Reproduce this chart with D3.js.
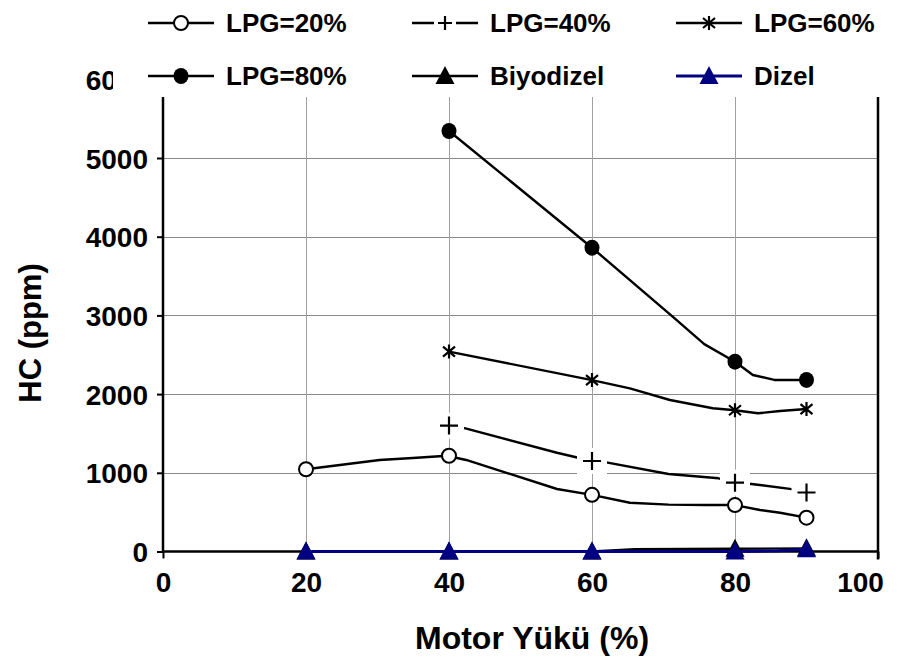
<!DOCTYPE html>
<html>
<head>
<meta charset="utf-8">
<script src="https://cdn.jsdelivr.net/npm/d3@7"></script>
<style>
  html, body { margin: 0; padding: 0; background: #fff; }
  svg { display: block; }
  text { font-family: "Liberation Sans", Arial, sans-serif; font-weight: bold; fill: #000; }
</style>
</head>
<body>
<div id="chart"></div>
<script>
// Motor load (%) where markers sit
const loads = [20, 40, 60, 80, 90];

// HC (ppm) at each marker
const lpg20 = [1045, 1217, 720, 590, 430];
const lpg40 = [null, 1600, 1150, 875, 750];
const lpg60 = [null, 2540, 2178, 1795, 1810];
const lpg80 = [null, 5343, 3860, 2412, 2180];
const biyodizel = [0, 0, 0, 35, 40];
const dizel = [0, 0, 0, 0, 30];

// line vertices as drawn in the picture (load, ppm)
const lpg20LineX = [20, 30.3, 35.5, 39.7, 42.4, 55.1, 60, 65.3, 70.7, 75.8, 80, 83.5, 86.3, 90];
const lpg20LineY = [1045, 1163, 1192, 1217, 1163, 794, 720, 620, 595, 591, 590, 527, 493, 430];
const lpg40LineX = [40, 42.3, 55.1, 60, 62, 70.7, 77.7, 80, 82.3, 88.2, 90];
const lpg40LineY = [1600, 1565, 1255, 1150, 1133, 985, 930, 875, 858, 790, 750];
const lpg60LineX = [40, 60, 65.3, 70.9, 76.9, 80, 83.2, 86.3, 90];
const lpg60LineY = [2540, 2178, 2073, 1925, 1820, 1795, 1756, 1785, 1810];
const lpg80LineX = [40, 60, 71.4, 75.7, 80, 82.5, 85.5, 90];
const lpg80LineY = [5343, 3860, 2975, 2635, 2412, 2243, 2180, 2180];
const biyoLineX = [20, 40, 60, 66, 80, 90];
const biyoLineY = [0, 0, 0, 30, 35, 40];
const dizelLineX = [20, 40, 60, 80, 86, 90];
const dizelLineY = [0, 0, 0, 0, 8, 30];

const xTicks = [0, 20, 40, 60, 80, 100];
const yTicks = [0, 1000, 2000, 3000, 4000, 5000, 6000];

const series = [
  { name: 'LPG=20%', y: lpg20, lx: lpg20LineX, ly: lpg20LineY, marker: 'circleOpen', color: '#000' },
  { name: 'LPG=40%', y: lpg40, lx: lpg40LineX, ly: lpg40LineY, marker: 'plus', color: '#000' },
  { name: 'LPG=60%', y: lpg60, lx: lpg60LineX, ly: lpg60LineY, marker: 'star', color: '#000' },
  { name: 'LPG=80%', y: lpg80, lx: lpg80LineX, ly: lpg80LineY, marker: 'circleFilled', color: '#000' },
  { name: 'Biyodizel', y: biyodizel, lx: biyoLineX, ly: biyoLineY, marker: 'triangle', color: '#000' },
  { name: 'Dizel', y: dizel, lx: dizelLineX, ly: dizelLineY, marker: 'triangle', color: '#000080' }
];

const W = 903, H = 660;
const plot = { left: 163, right: 878, top: 79.3, bottom: 551.5 };

const svg = d3.select('#chart').append('svg')
  .attr('width', W).attr('height', H)
  .attr('viewBox', `0 0 ${W} ${H}`);

const x = d3.scaleLinear().domain([0, 100]).range([plot.left, plot.right]);
const y = d3.scaleLinear().domain([0, 6000]).range([plot.bottom, plot.top]);

// Grid
const grid = svg.append('g');
grid.selectAll('line.h').data(yTicks.slice(1)).enter().append('line')
  .attr('x1', plot.left).attr('x2', plot.right)
  .attr('y1', d => Math.round(y(d)) + 0.5).attr('y2', d => Math.round(y(d)) + 0.5)
  .attr('stroke', '#8a8a8a').attr('stroke-width', 1);
grid.selectAll('line.v').data(xTicks.slice(1, -1)).enter().append('line')
  .attr('y1', plot.top).attr('y2', plot.bottom)
  .attr('x1', d => Math.round(x(d)) + 0.5).attr('x2', d => Math.round(x(d)) + 0.5)
  .attr('stroke', '#a0a0a0').attr('stroke-width', 1);

// Axes
const yAxis = d3.axisLeft(y).tickValues(yTicks).tickSize(6).tickPadding(9).tickFormat(d3.format('d'));
const gy = svg.append('g').attr('transform', `translate(${plot.left},0)`).call(yAxis);
const xAxis = d3.axisBottom(x).tickValues(xTicks).tickSize(7).tickPadding(14);
const gx = svg.append('g').attr('transform', `translate(0,${plot.bottom})`).call(xAxis);

[gy, gx].forEach(g => {
  g.select('.domain').remove();
  g.selectAll('.tick line').attr('stroke', '#000').attr('stroke-width', 2);
  g.selectAll('.tick text').style('font-size', '28px').attr('fill', '#000');
});
gy.selectAll('.tick text').attr('dy', '0.36em');
// last x label is kept inside the chart, as in the original
gx.selectAll('.tick text').filter(d => d === 100).attr('x', -18);

// frame lines: left axis, bottom axis, right border
svg.append('line').attr('x1', plot.left).attr('x2', plot.left)
  .attr('y1', plot.top).attr('y2', plot.bottom + 1).attr('stroke', '#000').attr('stroke-width', 2.5);
svg.append('line').attr('x1', plot.left).attr('x2', plot.right)
  .attr('y1', plot.bottom).attr('y2', plot.bottom).attr('stroke', '#000').attr('stroke-width', 2.5);
svg.append('line').attr('x1', plot.right).attr('x2', plot.right)
  .attr('y1', plot.top).attr('y2', plot.bottom + 8).attr('stroke', '#000').attr('stroke-width', 2.5);

// Marker painter
function drawMarker(g, type, color) {
  if (type === 'circleOpen') {
    g.append('circle').attr('r', 7).attr('fill', '#fff').attr('stroke', color).attr('stroke-width', 2);
  } else if (type === 'circleFilled') {
    g.append('ellipse').attr('rx', 7.5).attr('ry', 8).attr('fill', color);
  } else if (type === 'plus') {
    g.append('rect').attr('x', -15).attr('y', -13).attr('width', 30).attr('height', 26).attr('fill', '#fff');
    g.append('path').attr('d', 'M-9,0H9M0,-9V9').attr('stroke', color).attr('stroke-width', 2.2);
  } else if (type === 'star') {
    g.append('path').attr('d', 'M0,-7V7M-6,-5L6,5M-6,5L6,-5').attr('stroke', color).attr('stroke-width', 2.2);
  } else if (type === 'triangle') {
    g.append('path').attr('d', 'M0,-10L9.5,8L-9.5,8Z').attr('fill', color);
  }
}

const line = d3.line().x(d => x(d[0])).y(d => y(d[1]));

const lineLayer = svg.append('g');

series.forEach(s => {
  const pts = s.lx.map((v, i) => [v, s.ly[i]]);
  const sg = lineLayer.append('g');
  sg.append('path').datum(pts)
    .attr('d', line)
    .attr('fill', 'none')
    .attr('stroke', s.color)
    .attr('stroke-width', s.color === '#000' ? 2.4 : 3)
    .attr('stroke-linejoin', 'round');
  const mg = sg.append('g');
  loads.forEach((ld, i) => {
    if (s.y[i] == null) return;
    const m = mg.append('g').attr('transform', `translate(${x(ld)},${y(s.y[i])})`);
    drawMarker(m, s.marker, s.color);
  });
});

// Legend box (covers top of the plot)
svg.append('rect').attr('x', 113).attr('y', 0).attr('width', W - 113).attr('height', 97).attr('fill', '#fff');

const legendCols = [148, 412, 676];
const legendRows = [23, 76];
const legend = svg.append('g');
series.forEach((s, i) => {
  const lx = legendCols[i % 3], ly = legendRows[Math.floor(i / 3)];
  const g = legend.append('g').attr('transform', `translate(${lx},${ly})`);
  g.append('line').attr('x1', 0).attr('x2', 66).attr('y1', 0).attr('y2', 0)
    .attr('stroke', s.color).attr('stroke-width', s.color === '#000' ? 2.4 : 3);
  const m = g.append('g').attr('transform', 'translate(33,0)');
  if (s.marker === 'plus') {
    m.append('rect').attr('x', -11).attr('y', -10).attr('width', 22).attr('height', 20).attr('fill', '#fff');
    m.append('path').attr('d', 'M-7,0H7M0,-7V7').attr('stroke', s.color).attr('stroke-width', 2.2);
  } else {
    drawMarker(m, s.marker, s.color);
  }
  g.append('text').attr('x', 78).attr('y', 0).attr('dy', '0.36em')
    .style('font-size', '26px').text(s.name);
});

// Axis titles
svg.append('text').attr('x', 532).attr('y', 637).attr('dy', '0.36em')
  .attr('text-anchor', 'middle').style('font-size', '32px').text('Motor Yükü (%)');
svg.append('text').attr('transform', 'translate(30,333) rotate(-90)')
  .attr('dy', '0.36em').attr('text-anchor', 'middle').style('font-size', '31px').text('HC (ppm)');
</script>
</body>
</html>
